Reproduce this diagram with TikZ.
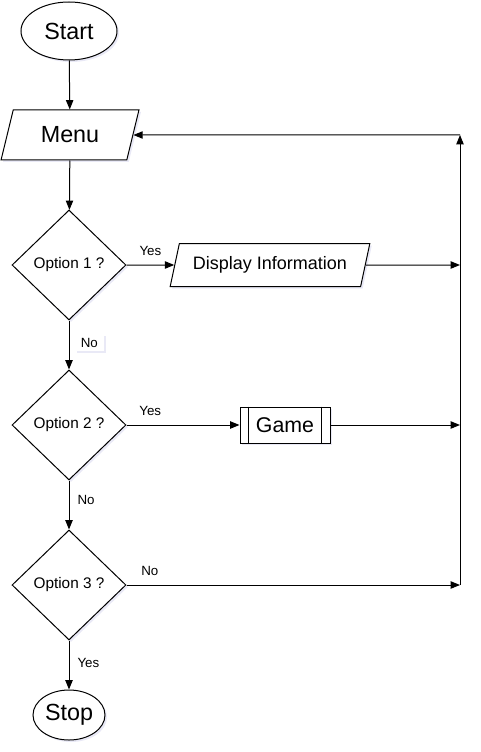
\documentclass[tikz,border=0pt]{standalone}
\usepackage{fontspec}
\setmainfont{Liberation Sans}
\usetikzlibrary{positioning,shapes.geometric,arrows.meta,shadows}

\begin{document}
\begin{tikzpicture}[x=0.75pt, y=-0.75pt, line width=0.75pt,
  flow/.style={-{Stealth[length=7pt,width=5.5pt,inset=0pt]}},
  shade/.style={drop shadow={shadow xshift=1.5pt, shadow yshift=-1.5pt, opacity=0.12, fill=blue!40!gray}},
  terminal/.style={ellipse, draw, fill=white, shade, inner sep=0pt, font=\fontsize{17.5}{20}\selectfont},
  io/.style={trapezium, trapezium stretches, trapezium left angle=#1, trapezium right angle=180-#1,
    draw, fill=white, shade, inner sep=0pt},
  decision/.style={diamond, draw, fill=white, shade, inner sep=0pt,
    minimum width=85.5pt, minimum height=82.5pt, font=\fontsize{11.5}{13}\selectfont},
  edgetext/.style={font=\fontsize{10}{12}\selectfont, inner sep=2pt}]

  \useasboundingbox (0,0) rectangle (480,752);

  % Main column
  \node[terminal, minimum width=72pt, minimum height=43.5pt] (start) at (69,31) {Start};
  \node[io=69, minimum width=103.5pt, minimum height=37.5pt,
        font=\fontsize{17.5}{20}\selectfont] (menu) at (70,135) {Menu};
  \node[decision] (opt1) at (69,265) {Option 1 ?};
  \node[decision] (opt2) at (69,425) {Option 2 ?};
  \node[decision] (opt3) at (69,585) {Option 3 ?};
  \node[terminal, minimum width=54pt, minimum height=37.5pt] (stop) at (69,715) {Stop};

  % Actions
  \node[io=65, minimum width=150pt, minimum height=32.25pt,
        font=\fontsize{13.5}{16}\selectfont] (disp) at (270,265) {Display Information};
  \node[rectangle, draw, fill=white, shade, minimum width=67.5pt, minimum height=27pt,
        font=\fontsize{16}{18}\selectfont] (game) at (285,425) {Game};
  \draw ([xshift=6.75pt]game.north west) -- ([xshift=6.75pt]game.south west);
  \draw ([xshift=-6.75pt]game.north east) -- ([xshift=-6.75pt]game.south east);

  % Return line
  \coordinate (r1) at (460,265);
  \coordinate (r2) at (460,425);
  \coordinate (r3) at (460,585);
  \coordinate (top) at (460,135);

  % Connectors
  \draw[flow] (start) -- (menu);
  \draw[flow] (menu) -- (opt1);
  \draw[flow] (opt1) -- node[edgetext, pos=0.5, above=5pt] {Yes} (disp);
  \draw[flow] (opt1) -- node[edgetext, fill=white, shade, inner xsep=4.5pt, inner ysep=3pt,
        right=4pt, pos=0.45] {No} (opt2);
  \draw[flow] (opt2) -- node[edgetext, pos=0.21, above=5pt] {Yes} (game);
  \draw[flow] (opt2) -- node[edgetext, right=4pt, pos=0.4] {No} (opt3);
  \draw[flow] (opt3) -- node[edgetext, pos=0.07, above=5pt] {No} (r3);
  \draw[flow] (opt3) -- node[edgetext, right=4pt, pos=0.45] {Yes} (stop);
  \draw[flow] (disp) -- (r1);
  \draw[flow] (game) -- (r2);
  \draw[flow] (r3) -- (top);
  \draw[flow] (top) -- (menu);

\end{tikzpicture}
\end{document}
